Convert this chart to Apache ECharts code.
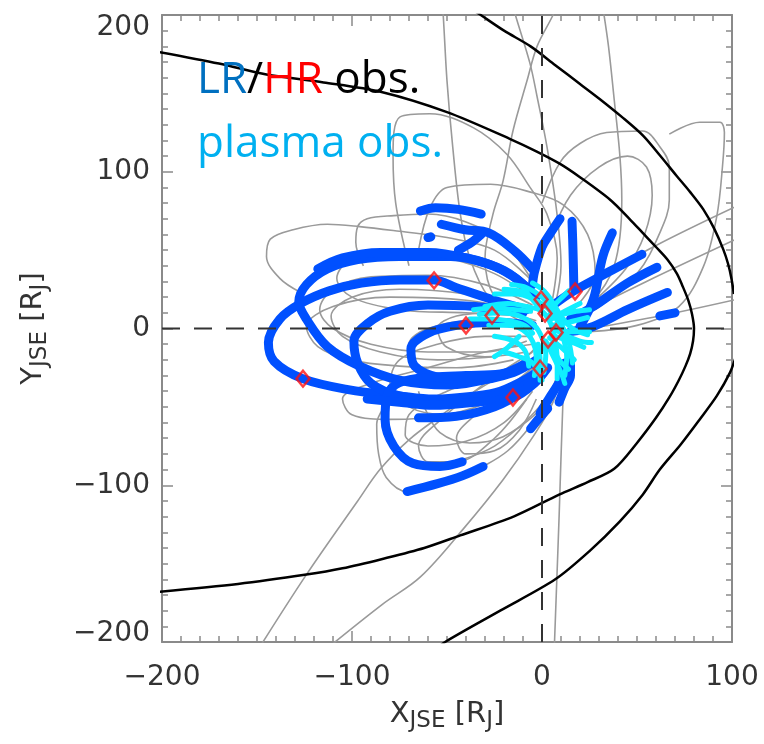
<!DOCTYPE html>
<html><head><meta charset="utf-8">
<script src="https://cdn.jsdelivr.net/npm/echarts@6/dist/echarts.min.js"></script>
<style>html,body{margin:0;padding:0;background:#fff}#c{width:764px;height:744px}</style>
</head><body><div id="c"></div>
<script>
// ---------- axis ticks ----------
const xTickValues = [-200, -100, 0, 100];
const yTickValues = [-200, -100, 0, 100, 200];

// ---------- boundaries (black) ----------
const bowShockUpper = [[-36,203],[-33,200.6],[-20,190],[-6,180],[7,168],[20,156],[30.5,146.3],[42,135],[53.3,122.9],[62,110.5],[70.9,97.3],[78,87],[84.9,76],[90.5,64],[95.4,50.5],[98,41],[99.8,31.3],[101,22]];
const bowShockLower = [[-56,-205],[-51,-200],[-22,-180],[7,-160],[25,-142],[41,-123],[53,-106],[62,-90],[73,-74],[83,-58],[92,-43],[99,-28],[102,-18]];
const magnetopause = [[-202,176.5],[-170,169],[-145,162],[-115,157],[-85,151],[-50,138],[-17,121],[-3,113],[9.5,105],[20,96.5],[36,82],[46,70],[53,61],[60,52],[66,44],[71,35],[74,27],[77,18],[79,9],[80,0],[79.5,-8],[78,-16],[75.5,-24],[72,-33],[67,-44],[60,-57],[50,-73],[38,-89.5],[24,-98],[9,-106],[-15,-120],[-43,-132],[-62,-140],[-84,-147],[-105,-153],[-124,-157],[-160,-163],[-202,-168]];
const dashVertical = [[0,-200],[0,200]];
const dashHorizontal = [[-200,0],[100,0]];

// ---------- trajectories (gray) ----------
const grayA = [[-52.5,205],[-52,200],[-50,158],[-47,116],[-43,73],[-38,45],[-28,20],[-12,5]];
const grayB = [[-15,205],[-14,200],[-6.3,169],[-2.6,148],[2.6,116],[7.9,73],[10,40],[7,15]];
const grayC = [[7,205],[5.8,200],[-2.6,180],[-7.9,158],[-15.3,126],[-20.5,94],[-25.8,73],[-30,45],[-25,20],[-12,8]];
const grayD = [[32,205],[35,180],[38,146],[41,110],[42,82],[38,40],[25,15],[10,3]];
const grayE = [[-70,40],[-77,80],[-78.4,111],[-74.7,135],[-59,137],[-36,128],[-18.4,111],[-6.3,90],[2.6,73],[8,45],[5,15]];
const grayF = [[-65,50],[-59,77],[-50,90],[-27,92],[-6,87],[11,79],[24,60],[28,35],[15,10]];
const grayG = [[0,80],[9.5,106],[20,118],[34,125],[53,126],[62,116],[67,103.5],[67,82],[62,61],[50,35],[28,12]];
const grayH = [[5,60],[15,85],[30,103],[45,110],[55,103],[58,85],[54,60],[44,38],[25,15]];
const grayI = [[67,124],[83,131.6],[93.7,131.6],[96,125],[95,103.5],[92,71.6],[85,39.6],[72,14],[50,2],[25,-2]];
const grayJ = [[104,79],[60,53],[14,22]];
const grayK = [[104,58],[55,30],[5,0]];
const grayL = [[104,19],[62,8],[25,0]];
const grayM = [[-127,23],[-138,32],[-145,46],[-143,57],[-131,63],[-113,66.5],[-96,65],[-75,62],[-50,58],[-25,50],[-5,30]];
const grayN = [[-94,40],[-98,55],[-97,65],[-92,70],[-78,72],[-60,73],[-40,68],[-20,55],[-5,30]];
const grayO = [[-5,10],[-40,18],[-80,20],[-110,14],[-124,1.3],[-118,-11.5],[-101,-20],[-75,-24],[-45,-25],[-15,-20]];
const grayP = [[-5,12],[-40,22],[-75,25],[-100,20],[-111,8],[-105,-5],[-85,-15],[-55,-20],[-25,-18]];
const grayQ = [[-75,-35],[-82,-48],[-87,-61],[-86,-80],[-82,-95],[-71,-104],[-55,-100],[-42,-94],[-31,-88],[-18,-78],[-6,-62],[3,-45],[8,-30]];
const grayR = [[-65,-40],[-62,-50],[-53.7,-66.5],[-38,-73],[-20.5,-69],[-2.6,-53.7],[5,-40]];
const grayS = [[-43,-84],[-25,-75],[-6,-56],[5,-40]];
const grayT = [[-150,-206],[-124,-157],[-97,-110],[-85,-89.5],[-70,-71],[-53.7,-56],[-35,-40],[-15,-25],[-3,-12]];
const grayU = [[-112,-203],[-84,-176],[-64,-158.5],[-41.5,-128],[-20.5,-96.5],[-4.7,-69],[5.8,-47],[10,-28]];
const grayV = [[6.5,-203],[7.5,-170],[9,-120],[11,-47],[12,-25]];
const grayW = [[-5,-5],[-30,-5],[-55,-10],[-75,-20],[-80,-35],[-70,-50],[-50,-55],[-25,-50],[-5,-35]];
const grayX = [[-5,0],[-35,5],[-60,0],[-70,-10],[-65,-25],[-45,-32],[-20,-30],[-3,-20]];
const grayY = [[-3,5],[-25,10],[-45,8],[-55,0],[-50,-12],[-30,-18],[-8,-15]];
const grayZ1 = [[-5,15],[-30,28],[-60,34],[-90,33],[-110,25],[-117,12],[-110,0],[-90,-10],[-60,-15],[-30,-15],[-8,-8]];
const grayZ2 = [[-5,-10],[-30,-15],[-60,-25],[-90,-35],[-105,-45],[-100,-55],[-80,-58],[-50,-55],[-25,-45],[-5,-25]];
const grayZ3 = [[-3,18],[-25,35],[-50,45],[-80,50],[-100,45],[-108,32],[-100,20],[-75,12],[-40,10],[-10,8]];
const grayZ4 = [[-5,-15],[-30,-35],[-55,-60],[-65,-75],[-60,-85],[-45,-85],[-25,-70],[-8,-45]];
const grayZ5 = [[-5,-20],[-25,-30],[-50,-40],[-70,-55],[-72,-68],[-60,-75],[-40,-72],[-20,-60],[-5,-40]];
const grayZ6 = [[-5,-25],[-20,-40],[-35,-55],[-45,-70],[-40,-80],[-25,-78],[-12,-65],[-3,-45]];

// ---------- LR/HR observation segments (blue) ----------
const blueA = [[-8,12],[-25,18],[-45,26],[-57,31],[-75,31],[-95,29],[-112,24],[-127,16],[-138,6],[-144,-9],[-141,-21],[-126,-32],[-102,-39],[-75,-43],[-57,-45],[-35,-43],[-22,-40],[-8,-32],[-1,-26]];
const blueB = [[-3,20],[-15,33],[-30,42],[-48,46],[-75,46],[-97,44],[-113,38],[-124,28],[-128,17],[-124,6],[-113,-11.5],[-96,-24],[-75,-33],[-50,-36],[-25,-31],[-8,-22]];
const blueB2 = [[-6,24],[-20,37],[-40,45],[-60,48.5],[-85,48.5],[-105,45],[-118,38]];
const blueC = [[-10,10],[-35,14],[-60,15],[-80,11],[-92,3],[-99,-8],[-97,-22],[-90,-35],[-75,-43],[-50,-46],[-30,-44],[-12,-38],[-2,-30]];
const blueD = [[-5,2],[-25,4],[-45,2],[-60,-3],[-69,-13],[-67,-24],[-55,-31],[-35,-33],[-15,-28],[-3,-20]];
const blueE = [[-5,-22],[-22,-29],[-40,-30],[-57,-31],[-75,-34.5],[-81.6,-43],[-82.6,-58],[-78,-75],[-68,-86],[-53.7,-88],[-42,-85]];
const blueF = [[-71,-104],[-55,-99],[-42,-94],[-31,-88]];
const blueG = [[-92,-45],[-75,-47],[-57,-49],[-35,-47],[-15,-44],[-4,-35],[3,-25]];
const blueH = [[-65,-57],[-45,-56],[-25,-50],[-10,-40],[0,-28]];
const blueT1 = [[-64,75],[-56,77],[-44,76],[-32,73]];
const blueT2 = [[-53,66.5],[-40.5,63],[-28,61],[-14,49],[-5,38]];
const blueT3 = [[-60,58],[-58.5,58.5]];
const blueT4 = [[-44,50],[-37,55],[-32,60]];
const blueU1 = [[-5,28],[-4,36],[0,52],[4,60],[9.5,70]];
const blueU2 = [[15.8,68.4],[16.3,50.5],[16.8,25]];
const blueU3 = [[6,15],[16.3,23.6],[35,36],[52.6,47.3]];
const blueU4 = [[37,61],[32,46],[27,18.5],[20,1.3]];
const blueU5 = [[66,23],[45,12],[27,1.3],[15,-2]];
const blueU6 = [[60.5,39],[45,29],[27,14],[15,6]];
const blueU7 = [[62,8],[70,10]];
const blueD1 = [[-6,-64],[-2,-58],[3,-51]];
const blueD2 = [[-1,-54],[4,-44],[9.5,-33],[12,-22]];
const blueD3 = [[9,-47],[12,-38],[15,-30],[15,-20]];

// ---------- plasma observation segments (cyan) ----------
const cyan1 = [[-33,9],[-22,10],[-12,8],[-4,2],[0,-6],[2,-16],[1,-28]];
const cyan2 = [[-30,14],[-18,16],[-8,14],[0,11],[5,2],[7,-8],[8,-20],[8,-32]];
const cyan3 = [[-25,22],[-14,22],[-5,19],[3,13],[8,5],[11,-5],[13,-18],[12,-30]];
const cyan4 = [[-16,28],[-8,26],[0,20],[6,12],[10,3],[14,-8],[16,-22]];
const cyan5 = [[-5,29],[1,24],[6,16],[10,8],[16,0],[24,-4]];
const cyan6 = [[-28,2],[-18,2],[-10,-1],[-5,-8],[-3,-18],[-4,-30]];
const cyan7 = [[-25,-5],[-15,-8],[-9,-14],[-7,-24]];
const cyan8 = [[5,2],[14,4],[24,7]];
const cyan9 = [[6,-1],[15,-2],[25,-2]];
const cyan10 = [[5,-4],[14,-8],[22,-12]];
const cyan11 = [[4,-6],[11,-13],[17,-20]];
const cyan12 = [[5,6],[12,11],[20,16]];
const cyan13 = [[-20,-15],[-12,-18],[-5,-22],[0,-33]];
const cyan14 = [[4,12],[9,18],[14,24]];
const cyan15 = [[-2,14],[-6,20],[-10,26]];
const cyan16 = [[-38,6],[-28,6],[-18,5],[-9,2],[-5,-3]];
const cyan17 = [[-36,12],[-25,13],[-14,12],[-6,11]];
const cyan18 = [[-20,25],[-10,23],[-3,16]];
const cyan19 = [[2,-8],[6,-18],[10,-28],[12,-35]];
const cyan20 = [[-2,-10],[-1,-20],[-1,-33]];
const cyan21 = [[6,0],[12,-4],[20,-8],[26,-9]];
const cyan22 = [[4,9],[10,9],[18,11],[25,12]];
const cyan23 = [[-12,-5],[-18,-12],[-25,-18]];
const cyan24 = [[5,-10],[9,-20],[14,-26]];

// ---------- HR observation markers (red diamonds) ----------
const hrX = [-56.8, -125.8, -40, -26.3, -0.5, 1.6, 17.4, 7.4, 3.2, -1, -15.3];
const hrY = [30.7, -32, 1.9, 8.3, 18.5, 9.6, 23.6, -2.6, -7, -25.6, -44];

const grayOrbits = [grayA,grayB,grayC,grayD,grayE,grayF,grayG,grayH,grayI,grayJ,grayK,grayL,grayM,grayN,grayO,grayP,grayQ,grayR,grayS,grayT,grayU,grayV,grayW,grayX,grayY,grayZ1,grayZ2,grayZ3,grayZ4,grayZ5,grayZ6];
const blueSegs = [blueA,blueB,blueB2,blueC,blueD,blueE,blueF,blueG,blueH,blueT1,blueT2,blueT3,blueT4,blueU1,blueU2,blueU3,blueU4,blueU5,blueU6,blueU7,blueD1,blueD2,blueD3];
const cyanSegs = [cyan1,cyan2,cyan3,cyan4,cyan5,cyan6,cyan7,cyan8,cyan9,cyan10,cyan11,cyan12,cyan13,cyan14,cyan15,cyan16,cyan17,cyan18,cyan19,cyan20,cyan21,cyan22,cyan23,cyan24];

const series = [];
function addLines(list, lineStyle, z, smooth) {
  list.forEach(d => series.push({
    type: 'line', data: d, showSymbol: false, symbol: 'none', smooth: smooth,
    lineStyle: lineStyle, z: z, silent: true, animation: false, clip: true
  }));
}
addLines(grayOrbits, {color: '#9a9a9a', width: 1.6}, 2, 0.35);
addLines([bowShockUpper, bowShockLower, magnetopause], {color: '#000', width: 2.5}, 3, 0.3);
addLines(blueSegs, {color: '#0050ff', width: 9, cap: 'round', join: 'round'}, 4, 0.35);
addLines(cyanSegs, {color: '#10eeff', width: 5, cap: 'round', join: 'round'}, 5, 0.35);
addLines([dashVertical, dashHorizontal], {color: '#333', width: 2, type: [18, 14]}, 6, false);
series.push({
  type: 'scatter', data: hrX.map((x, i) => [x, hrY[i]]), symbol: 'diamond', symbolSize: [13, 16],
  itemStyle: {color: 'rgba(0,0,0,0)', borderColor: '#ff1010', borderWidth: 2.5}, z: 10, silent: true, animation: false
});

const axisGray = '#8a8a8a';
const labelFont = 'DejaVu Sans';
const fmt = v => String(v).replace('-', '\u2212');
function yFmt(v) {
  if (v === 200) return '{hi|' + fmt(v) + '}';
  if (v === -200) return '{lo|' + fmt(v) + '}';
  return fmt(v);
}
const nameRich = {
  n: {fontSize: 29, fontFamily: labelFont, color: '#333', lineHeight: 34},
  s: {fontSize: 23, fontFamily: labelFont, color: '#333', lineHeight: 20, padding: [14, 0, 0, 0]}
};
function baseAxis(min, max, position) {
  return {
    type: 'value', min: min, max: max, interval: 100, position: position,
    axisLine: {show: true, onZero: false, lineStyle: {color: axisGray, width: 2}},
    axisTick: {show: true, inside: true, length: 11, lineStyle: {color: axisGray, width: 1.5}},
    minorTick: {show: true, splitNumber: 10, length: 6, lineStyle: {color: axisGray, width: 1.5}},
    splitLine: {show: false}, minorSplitLine: {show: false}
  };
}
const xBottom = Object.assign(baseAxis(-200, 100, 'bottom'), {
  axisLabel: {show: true, margin: 22, fontSize: 28, lineHeight: 28, fontFamily: labelFont, color: '#333', formatter: fmt},
  name: '{n|X}{s|JSE}{n| [R}{s|J}{n|]}', nameLocation: 'middle', nameGap: 55, nameMoveOverlap: false,
  nameTextStyle: {rich: nameRich}
});
const xTop = Object.assign(baseAxis(-200, 100, 'top'), {axisLabel: {show: false}});
const yLeft = Object.assign(baseAxis(-200, 200, 'left'), {
  axisLabel: {show: true, margin: 12, fontSize: 28, fontFamily: labelFont, color: '#333', formatter: yFmt,
    rich: {
      hi: {fontSize: 28, fontFamily: labelFont, color: '#333', padding: [26, 0, 0, 0]},
      lo: {fontSize: 28, fontFamily: labelFont, color: '#333', padding: [0, 0, 16, 0]}
    }},
  name: '{n|Y}{s|JSE}{n| [R}{s|J}{n|]}', nameLocation: 'middle', nameGap: 112, nameRotate: 90, nameMoveOverlap: false,
  nameTextStyle: {rich: nameRich}
});
const yRight = Object.assign(baseAxis(-200, 200, 'right'), {axisLabel: {show: false}});

const chart = echarts.init(document.getElementById('c'), null, {renderer: 'canvas'});
chart.setOption({
  animation: false,
  backgroundColor: '#fff',
  grid: {left: 162, right: 32, top: 15, bottom: 102, containLabel: false, outerBoundsMode: 'none'},
  xAxis: [xBottom, xTop],
  yAxis: [yLeft, yRight],
  graphic: [
    {type: 'text', left: 197, top: 58, z: 20, silent: true,
      style: {text: '{a|LR}{b|/}{c|HR}{b| obs.}', rich: {
        a: {fontSize: 44, fontFamily: 'Open Sans', fill: '#0070c0', color: '#0070c0'},
        b: {fontSize: 44, fontFamily: 'Open Sans', fill: '#000', color: '#000'},
        c: {fontSize: 44, fontFamily: 'Open Sans', fill: '#ff0000', color: '#ff0000'}
      }}},
    {type: 'text', left: 197, top: 122, z: 20, silent: true,
      style: {text: 'plasma obs.', fontSize: 44, fontFamily: 'Open Sans', fill: '#00b0f0'}}
  ],
  series: series
});
</script>
</body></html>
